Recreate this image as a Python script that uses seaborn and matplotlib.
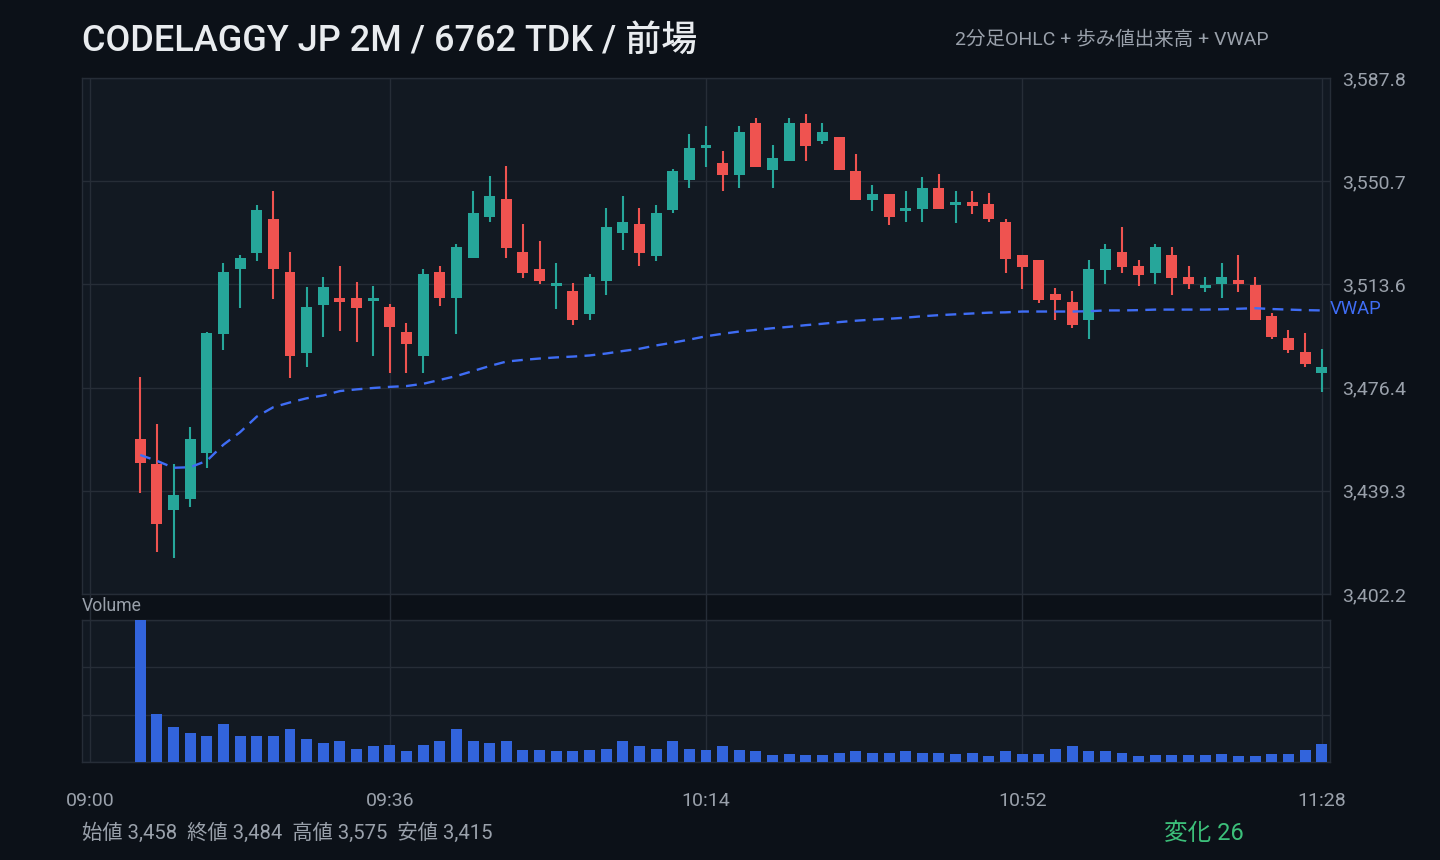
import matplotlib

matplotlib.use('Agg')
import numpy as np
import pandas as pd
import matplotlib.pyplot as plt
import matplotlib.transforms as mtransforms
from matplotlib.lines import Line2D
import seaborn as sns

# 2-minute bars, 09:06 - 11:28
times = pd.date_range("2024-01-01 09:06", "2024-01-01 11:28", freq="2min").strftime("%H:%M").tolist()

opens = [3458.0, 3449.1, 3432.4, 3436.5, 3452.8, 3495.8, 3519.0, 3525.0, 3537.2, 3518.0,
         3488.9, 3506.2, 3508.6, 3508.6, 3507.6, 3505.3, 3496.4, 3487.8, 3518.0, 3508.8,
         3522.9, 3537.9, 3544.4, 3525.3, 3519.1, 3513.1, 3511.2, 3503.0, 3514.9, 3531.9,
         3535.3, 3523.9, 3540.2, 3551.0, 3562.5, 3557.4, 3553.0, 3571.5, 3554.8, 3558.1,
         3571.5, 3565.0, 3566.5, 3554.5, 3544.0, 3546.2, 3540.0, 3540.7, 3548.3, 3542.2,
         3543.3, 3542.6, 3536.1, 3524.2, 3522.4, 3510.1, 3507.2, 3500.7, 3518.8, 3525.3,
         3520.2, 3517.7, 3524.2, 3516.2, 3512.3, 3513.7, 3515.1, 3513.3, 3502.2, 3494.3,
         3489.2, 3481.6]
highs = [3480.1, 3463.2, 3449.1, 3462.1, 3496.5, 3521.3, 3524.2, 3542.2, 3547.3, 3525.3,
         3512.6, 3516.2, 3520.2, 3514.4, 3512.9, 3506.4, 3499.6, 3519.1, 3520.2, 3528.2,
         3547.3, 3552.4, 3556.3, 3535.3, 3529.3, 3521.3, 3514.1, 3517.3, 3541.1, 3545.5,
         3541.1, 3542.2, 3555.2, 3567.6, 3570.5, 3561.4, 3570.5, 3573.3, 3563.6, 3573.3,
         3575.0, 3571.5, 3566.5, 3560.3, 3549.4, 3546.2, 3547.3, 3552.3, 3553.4, 3547.3,
         3547.3, 3546.6, 3537.2, 3524.2, 3522.4, 3512.3, 3511.2, 3522.4, 3528.2, 3534.2,
         3522.4, 3528.2, 3527.1, 3520.2, 3516.2, 3521.3, 3524.2, 3516.2, 3503.3, 3497.1,
         3496.0, 3490.3]
lows = [3438.7, 3417.4, 3415.0, 3433.6, 3447.7, 3489.9, 3504.9, 3522.1, 3508.2, 3479.9,
        3483.8, 3494.7, 3496.8, 3492.9, 3487.8, 3481.7, 3481.7, 3481.6, 3505.9, 3495.8,
        3522.9, 3535.9, 3522.9, 3516.0, 3513.8, 3504.8, 3499.0, 3500.8, 3509.9, 3526.1,
        3520.0, 3522.1, 3539.1, 3548.1, 3555.9, 3547.2, 3548.1, 3555.9, 3548.1, 3558.1,
        3558.1, 3564.0, 3554.8, 3544.0, 3540.0, 3535.0, 3536.1, 3536.1, 3540.7, 3535.7,
        3539.0, 3536.1, 3517.7, 3511.9, 3506.9, 3500.7, 3497.8, 3493.9, 3513.7, 3517.7,
        3513.0, 3513.7, 3509.7, 3511.9, 3510.8, 3508.7, 3510.8, 3500.7, 3493.9, 3488.9,
        3483.7, 3474.7]
closes = [3449.4, 3427.4, 3437.9, 3458.1, 3496.0, 3518.0, 3523.1, 3540.4, 3519.0, 3487.8,
          3505.3, 3512.6, 3507.3, 3505.1, 3508.6, 3498.2, 3492.2, 3517.3, 3508.8, 3527.1,
          3539.4, 3545.5, 3526.8, 3517.8, 3514.9, 3514.1, 3500.8, 3516.2, 3534.2, 3535.9,
          3525.0, 3539.4, 3554.5, 3562.5, 3563.6, 3553.0, 3568.3, 3555.9, 3559.2, 3571.5,
          3563.3, 3568.3, 3554.8, 3544.0, 3546.2, 3537.9, 3541.0, 3548.3, 3540.7, 3543.3,
          3541.9, 3537.2, 3522.8, 3519.9, 3507.9, 3507.9, 3498.9, 3519.1, 3526.3, 3519.9,
          3517.0, 3527.1, 3515.9, 3513.7, 3513.3, 3516.2, 3513.7, 3500.7, 3494.6, 3490.0,
          3484.9, 3484.0]
volumes = [25600, 8700, 6400, 5300, 4700, 6900, 4700, 4700, 4600, 6000,
           4200, 3500, 3700, 2400, 2900, 3100, 2000, 3100, 3700, 6000,
           3800, 3500, 3700, 2200, 2200, 2000, 2000, 2200, 2400, 3700,
           2800, 2400, 3700, 2400, 2200, 2900, 2200, 1900, 1300, 1500,
           1300, 1300, 1700, 1900, 1700, 1700, 1900, 1700, 1700, 1500,
           1700, 1100, 2000, 1500, 1500, 2400, 2900, 2000, 2000, 1700,
           1000, 1300, 1300, 1300, 1300, 1500, 1000, 1100, 1500, 1500,
           2200, 3300]
vwap = [3452.2, 3450.1, 3447.6, 3447.8, 3450.1, 3455.9, 3460.4, 3466.0, 3469.4, 3471.1,
        3472.6, 3473.6, 3475.2, 3475.8, 3476.3, 3476.7, 3477.0, 3477.8, 3479.2, 3480.6,
        3482.4, 3484.2, 3485.8, 3486.4, 3486.9, 3487.3, 3487.6, 3488.0, 3488.7, 3489.6,
        3490.4, 3491.6, 3492.6, 3493.7, 3494.9, 3495.8, 3496.6, 3497.2, 3497.8, 3498.3,
        3498.9, 3499.4, 3500.0, 3500.5, 3500.9, 3501.2, 3501.6, 3502.1, 3502.5, 3502.8,
        3503.1, 3503.4, 3503.5, 3503.8, 3503.8, 3503.8, 3503.8, 3503.9, 3504.2, 3504.2,
        3504.3, 3504.5, 3504.5, 3504.5, 3504.5, 3504.6, 3504.8, 3505.0, 3504.7, 3504.5,
        3504.3, 3504.2]

price_min, price_max = 3402.2, 3587.8
tick_times = ["09:00", "09:36", "10:14", "10:52", "11:28"]

# colours
BG = '#0c1118'
PANEL = '#121922'
GRID = '#262d37'
TXT = '#9aa1ab'
UP = '#26a69a'
DOWN = '#ef5350'
VOL = '#3264dc'
VWAP_C = '#3f6df5'


def slot(t):
    h, m = t.split(':')
    return (int(h) * 60 + int(m) - 9 * 60) / 2


df = pd.DataFrame({'time': times, 'open': opens, 'high': highs, 'low': lows,
                   'close': closes, 'volume': volumes, 'vwap': vwap})
df['x'] = df['time'].map(slot)
df['up'] = df['close'] >= df['open']
df['color'] = np.where(df['up'], UP, DOWN)

sns.set_theme(style='dark', rc={'axes.facecolor': PANEL, 'figure.facecolor': BG})
plt.rcParams['font.family'] = ['Roboto', 'Noto Sans CJK JP', 'DejaVu Sans']

fig = plt.figure(figsize=(14.4, 8.6), dpi=100)
ax = fig.add_axes([82 / 1440, 1 - 594 / 860, 1248 / 1440, 516 / 860])
axv = fig.add_axes([82 / 1440, 1 - 762 / 860, 1248 / 1440, 142 / 860])

xt = [slot(t) for t in tick_times]
xlim = (-0.5, 74.5)

# --- price panel
ax.vlines(df['x'], df['low'], df['high'], colors=df['color'], lw=1.5, zorder=3)
body_lo = np.minimum(df['open'], df['close'])
body_h = np.maximum(np.abs(df['close'] - df['open']), 0.9)
ax.bar(df['x'], body_h, bottom=body_lo, width=0.66, color=df['color'],
       edgecolor='none', linewidth=0, zorder=4)
sns.lineplot(data=df, x='x', y='vwap', ax=ax, color=VWAP_C, lw=1.7, zorder=5)
ax.lines[-1].set_dashes((4.6, 3.1))

ax.set_xlim(*xlim)
ax.set_ylim(price_min, price_max)
yt = np.linspace(price_min, price_max, 6)
ax.set_yticks(yt)
ax.set_yticklabels([f"{v:,.1f}" for v in yt])
ax.yaxis.tick_right()
ax.set_xticks(xt)
ax.tick_params(axis='x', labelbottom=False, length=0)
ax.tick_params(axis='y', length=0, pad=8.5, labelsize=14, labelcolor=TXT)
ax.set_xlabel('')
ax.set_ylabel('')
ax.grid(True, color=GRID, lw=1)
for s in ax.spines.values():
    s.set_color(GRID)
    s.set_linewidth(1)
ax.text(1.0, vwap[-1] + 0.4, 'VWAP', transform=ax.get_yaxis_transform(), color=VWAP_C,
        fontsize=13.3, va='center', ha='left', clip_on=False)

# --- volume panel
sns.barplot(x=df['x'], y=df['volume'], native_scale=True, width=0.66, color=VOL,
            saturation=1, edgecolor='none', linewidth=0, ax=axv, zorder=3)
axv.set_xlim(*xlim)
vmax = max(volumes)
axv.set_ylim(0, vmax)
axv.set_yticks(np.linspace(0, vmax, 4))
axv.set_yticklabels([])
axv.set_xticks(xt)
axv.set_xticklabels(tick_times)
axv.tick_params(axis='x', length=0, pad=21.5, labelsize=14, labelcolor=TXT)
axv.tick_params(axis='y', length=0)
axv.set_xlabel('')
axv.set_ylabel('')
axv.grid(True, color=GRID, lw=1)
for s in axv.spines.values():
    s.set_color(GRID)
    s.set_linewidth(1)

# vertical grid continues across the gap between the panels
blend = mtransforms.blended_transform_factory(ax.transData, fig.transFigure)
for x in xt:
    fig.add_artist(Line2D([x, x], [1 - 620 / 860, 1 - 594 / 860], transform=blend,
                          color=GRID, lw=1))

# --- texts
fig.text(82 / 1440, 1 - 41 / 860, 'CODELAGGY JP 2M / 6762 TDK / 前場', color='#e9ecef',
         fontsize=25.9, fontweight='medium', va='center', ha='left')
fig.text(955 / 1440, 1 - 40 / 860, '2分足OHLC + 歩み値出来高 + VWAP', color=TXT,
         fontsize=14, va='center', ha='left')
fig.text(82 / 1440, 1 - 606 / 860, 'Volume', color=TXT, fontsize=12.7, va='center', ha='left')

o, c, h, l = opens[0], closes[-1], max(highs), min(lows)
stats = f"始値 {o:,.0f}  終値 {c:,.0f}  高値 {h:,.0f}  安値 {l:,.0f}"
fig.text(82 / 1440, 1 - 833 / 860, stats, color=TXT, fontsize=14.6, va='center', ha='left')
fig.text(1244 / 1440, 1 - 833 / 860, f"変化 {c - o:.0f}", color='#3cc07a', fontsize=17,
         va='center', ha='right')

fig.savefig('out.png', dpi=100, facecolor=BG)
